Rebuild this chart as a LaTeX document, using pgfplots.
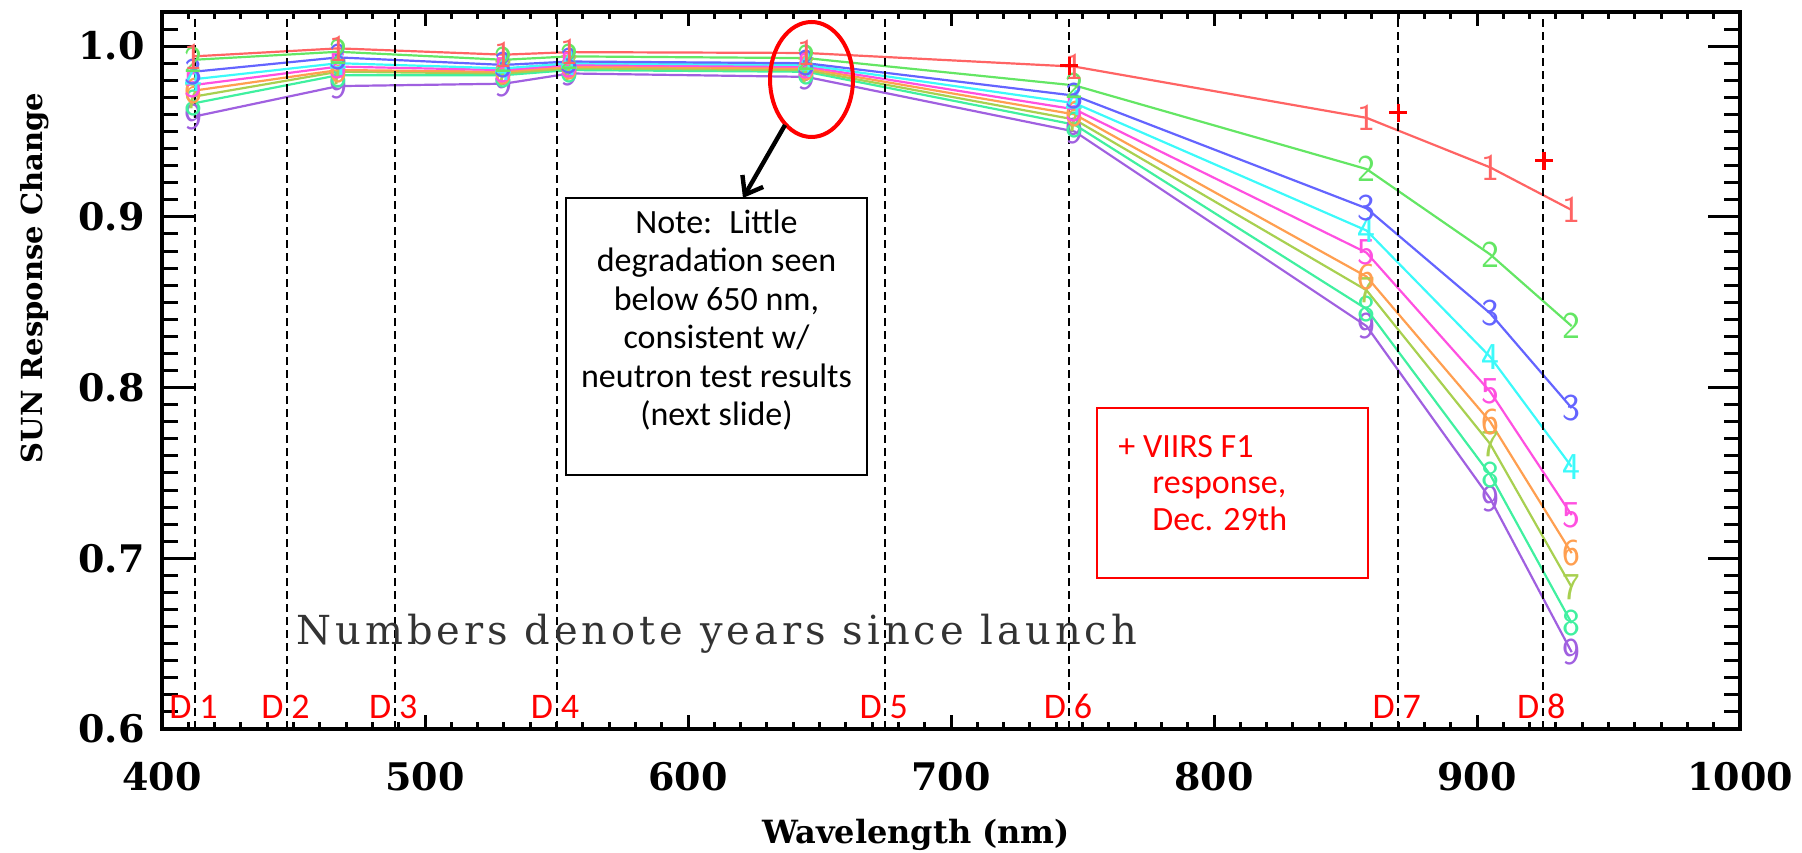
\documentclass[border=0pt]{standalone}
\usepackage{fontspec}
\usepackage{pgfplots}
\usepackage{pgfplotstable}
\pgfplotsset{compat=1.18}
\usetikzlibrary{arrows.meta}
\newfontfamily\dejaserif{DejaVu Serif}
\newfontfamily\numfont{DejaVu Serif}[LetterSpace=10]
\newfontfamily\calib{Carlito}
\definecolor{c1}{RGB}{255,100,100}
\definecolor{c2}{RGB}{100,230,100}
\definecolor{c3}{RGB}{100,100,255}
\definecolor{c4}{RGB}{60,250,250}
\definecolor{c5}{RGB}{255,80,224}
\definecolor{c6}{RGB}{255,159,80}
\definecolor{c7}{RGB}{168,208,80}
\definecolor{c8}{RGB}{64,240,160}
\definecolor{c9}{RGB}{160,96,224}
\pgfplotstableread{
wl   y1     y2     y3     y4     y5     y6     y7     y8     y9
412  0.994  0.992  0.985  0.9806 0.9772 0.9739 0.9704 0.9665 0.9587
467  0.9987 0.9967 0.9934 0.990  0.988  0.986  0.985  0.983  0.9766
530  0.995  0.992  0.989  0.987  0.986  0.985  0.984  0.983  0.978
555  0.9965 0.994  0.991  0.990  0.989  0.988  0.987  0.986  0.984
645  0.996  0.993  0.990  0.989  0.988  0.987  0.986  0.985  0.982
747  0.988  0.977  0.971  0.9666 0.963  0.960  0.957  0.954  0.950
858  0.958  0.928  0.905  0.892  0.879  0.865  0.857  0.846  0.836
905  0.929  0.878  0.8435 0.818  0.7976 0.780  0.767  0.749  0.735
936  0.904  0.836  0.788  0.7536 0.7253 0.703  0.683  0.662  0.645
}\resp
\pgfplotstableread{
wl  r
745 0.9885
870 0.961
925.5 0.933
}\viirs
\pgfplotsset{
  ser/.style 2 args={#1, line width=1.1pt, mark=text,
    text mark={#2}, text mark as node=true,
    text mark style={font=\sffamily\fontsize{19}{19}\selectfont, text=#1, inner sep=0pt},
    mark options={#1}},
  base/.style={at={(81pt,61.5pt)}, anchor=south west, scale only axis,
    width=789pt, height=358.5pt, xmin=400, xmax=1000, ymin=0.6, ymax=1.02,
    axis line style={line width=1.8pt}, tick style={line width=1.5pt,black},
    tick align=inside, xtick pos=both, ytick pos=both,
    xticklabel pos=left, yticklabel pos=left},
}
\begin{document}
\begin{tikzpicture}
\useasboundingbox (0,0) rectangle (901pt,426pt);
% x ticks axis
\begin{axis}[base,
  xtick={400,500,600,700,800,900,1000},
  xticklabels={400,500,600,700,800,900,1000},
  minor xtick={410,420,...,990},
  ytick=\empty,
  major tick length=7.2pt, minor tick length=3.6pt,
  xticklabel style={font=\dejaserif\bfseries\fontsize{19}{19}\selectfont, anchor=north, inner sep=0pt, yshift=-16.5pt},
]
\end{axis}
% y ticks + data
\begin{axis}[base,
  xtick=\empty,
  ytick={0.6,0.7,0.8,0.9,1.0},
  yticklabels={0.6,0.7,0.8,0.9,1.0},
  minor ytick={0.61,0.62,0.63,0.64,0.65,0.66,0.67,0.68,0.69,0.71,0.72,0.73,0.74,0.75,0.76,0.77,0.78,0.79,0.81,0.82,0.83,0.84,0.85,0.86,0.87,0.88,0.89,0.91,0.92,0.93,0.94,0.95,0.96,0.97,0.98,0.99,1.01,1.02},
  major tick length=15.8pt, minor tick length=7.9pt,
  yticklabel style={font=\dejaserif\bfseries\fontsize{19}{19}\selectfont, anchor=east, inner sep=0pt, xshift=-8.5pt},
]
\addplot[ser={c9}{9}] table[x=wl,y=y9]{\resp};
\addplot[ser={c8}{8}] table[x=wl,y=y8]{\resp};
\addplot[ser={c7}{7}] table[x=wl,y=y7]{\resp};
\addplot[ser={c6}{6}] table[x=wl,y=y6]{\resp};
\addplot[ser={c5}{5}] table[x=wl,y=y5]{\resp};
\addplot[ser={c4}{4}] table[x=wl,y=y4]{\resp};
\addplot[ser={c3}{3}] table[x=wl,y=y3]{\resp};
\addplot[ser={c2}{2}] table[x=wl,y=y2]{\resp};
\addplot[ser={c1}{1}] table[x=wl,y=y1]{\resp};
\foreach \xx in {412.5,447.5,488.5,550,675,745,870,925}{
  \edef\tmp{\noexpand\addplot[black, line width=1pt, dash pattern=on 4pt off 2.5pt] coordinates {(\xx,0.6) (\xx,1.02)};}
  \tmp
}
\addplot[only marks, red, mark=+, mark size=4.5pt, mark options={line width=1.6pt}] table[x=wl,y=r]{\viirs};
\foreach \xx/\nn in {412.5/1,447.5/2,488.5/3,550/4,675/5,745/6,870/7,925/8}{
  \edef\tmp{\noexpand\node[anchor=base east, inner sep=0pt, xshift=-1.5pt, text=red, font=\noexpand\calib\noexpand\fontsize{18}{18}\noexpand\selectfont] at (axis cs:\xx,0.6064) {D};
  \noexpand\node[anchor=base west, inner sep=0pt, xshift=2pt, text=red, font=\noexpand\calib\noexpand\fontsize{18}{18}\noexpand\selectfont] at (axis cs:\xx,0.6064) {\nn};}
  \tmp
}
\end{axis}
% axis titles
\node[rotate=90, font=\dejaserif\bfseries\fontsize{14.5}{14.5}\selectfont] at (17.5pt,287pt) {SUN Response Change};
\node[anchor=base, font=\dejaserif\bfseries\fontsize{16}{16}\selectfont] at (458pt,4.5pt) {Wavelength (nm)};
% in-plot text
\node[anchor=base west, inner sep=0pt, font=\numfont\fontsize{20}{20}\selectfont, text=black!80] at (148pt,104pt) {Numbers denote years since launch};
% note box
\draw[line width=1pt, fill=white] (283pt,188.5pt) rectangle (433.5pt,327pt);
\node[align=center, font=\calib\fontsize{17}{19.25}\selectfont] at (358.25pt,266pt) {Note:\enspace Little\\degradation seen\\below 650 nm,\\consistent w/\\neutron test results\\(next slide)};
% ellipse and arrow
\draw[red, line width=2pt] (405.75pt,386.25pt) ellipse [x radius=20.75pt, y radius=28.75pt];
\draw[line width=2.2pt, -{Straight Barb[length=8pt,width=12pt]}] (392.5pt,363.5pt) -- (371.5pt,327pt);
% legend box
\draw[red, line width=1pt] (548.5pt,137pt) rectangle (684pt,222pt);
\begin{scope}[every node/.style={anchor=base west, inner sep=0pt, text=red, font=\calib\fontsize{17}{17}\selectfont}]
\node at (559pt,197pt) {+ VIIRS F1};
\node at (576pt,179pt) {response,};
\node at (576pt,161pt) {Dec. 29th};
\end{scope}
\end{tikzpicture}
\end{document}
